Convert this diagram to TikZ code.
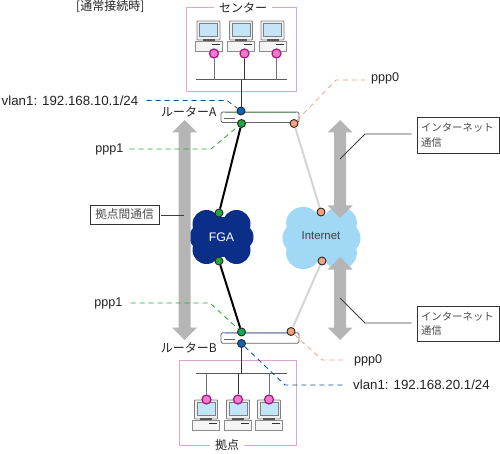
\documentclass[tikz,border=0pt]{standalone}
\usepackage{fontspec}
\setmainfont{Liberation Sans}
\newfontfamily\jp{Noto Sans CJK JP}
\definecolor{boxpink}{HTML}{D9A6D2}
\definecolor{pinkfill}{HTML}{F07CC8}
\definecolor{pinkline}{HTML}{A3108C}
\definecolor{navy}{HTML}{0B2F88}
\definecolor{sky}{HTML}{A0D8F6}
\definecolor{arrowgray}{HTML}{B5B5B5}
\definecolor{portblue}{HTML}{0F62B4}
\definecolor{portgreen}{HTML}{23A63C}
\definecolor{portorange}{HTML}{F4A27C}
\definecolor{screen}{HTML}{C4E4F8}
\definecolor{txt}{HTML}{222222}
\tikzset{
  lbl/.style={inner sep=0pt,font=\fontsize{12.6}{14}\selectfont,text=txt},
  iplbl/.style={inner sep=0pt,font=\fontsize{13.3}{15}\selectfont,text=txt},
  jlbl/.style={inner sep=0pt,font=\jp\fontsize{12}{15}\selectfont,text=txt},
  groupbox/.style={draw=boxpink,line width=1pt},
  grouptitle/.style={jlbl,fill=white,inner xsep=5pt,inner ysep=1pt},
  port/.style={circle,draw=black!85,line width=.9pt,minimum size=8pt,inner sep=0pt},
  pcport/.style={circle,draw=pinkline,fill=pinkfill,line width=1.2pt,minimum size=9pt,inner sep=0pt},
  routerbox/.style={draw=black!60,fill=white,rounded corners=1.5pt,line width=.9pt,minimum width=78pt,minimum height=10.5pt,inner sep=0pt},
  callout/.style={draw=black!80,fill=white,line width=.9pt,inner sep=0pt,font=\jp\fontsize{11.7}{15}\selectfont,text=black!70},
  callouttwo/.style={callout,font=\jp\fontsize{10.4}{14.5}\selectfont,align=left,text width=74pt,inner xsep=4pt,minimum width=82pt},
  bus/.style={draw=black!65,line width=1pt},
  drop/.style={draw=black!55,line width=1pt},
  uplink/.style={draw=black!80,line width=.8pt},
  thickln/.style={draw=black,line width=2pt},
  paleln/.style={draw=black!17,line width=2pt},
  dashln/.style={line width=.8pt,dash pattern=on 5pt off 4pt},
  leader/.style={draw=black!75,line width=.9pt},
}
% computer: centre x, top y of monitor
\newcommand{\pcunit}[2]{%
  \begin{scope}[shift={(#1,#2)}]
    \fill[black!6] (-11.5,0) rectangle (11.5,19);
    \draw[black!50,line width=.9pt,rounded corners=.8pt] (-11.5,0) rectangle (11.5,19);
    \fill[screen] (-9,2) rectangle (9,15);
    \draw[black!50,line width=.6pt] (-9,2) rectangle (9,15);
    \fill[black!65] (-6,18) rectangle (6,20);
    \draw[black!45,fill=black!4,line width=.9pt] (-13.5,20) rectangle (13.5,30);
    \draw[black!80,line width=.8pt] (3,23) -- (11,23);
  \end{scope}}
\newcommand{\cloudshape}[5]{% cx cy xs ys colour
  \begin{scope}[shift={(#1,#2)},xscale=#3,yscale=#4]
    \fill[#5] (-15,-13) circle (14);
    \fill[#5] (15,-13) circle (14);
    \fill[#5] (-18,0) circle (14);
    \fill[#5] (18,0) circle (14);
    \fill[#5] (-15,13) circle (14);
    \fill[#5] (15,13) circle (14);
    \fill[#5] (-18,-12) rectangle (18,12);
    \fill[#5] (-8,-20) rectangle (8,20);
  \end{scope}}
\newcommand{\dblarrow}[3]{% x top bottom
  \fill[arrowgray] (#1,#2) -- (#1+12.5,#2+12.5) -- (#1+6,#2+12.5) -- (#1+6,#3-12.5)
    -- (#1+12.5,#3-12.5) -- (#1,#3) -- (#1-12.5,#3-12.5) -- (#1-6,#3-12.5)
    -- (#1-6,#2+12.5) -- (#1-12.5,#2+12.5) -- cycle;}
\begin{document}
\begin{tikzpicture}[x=1pt,y=-1pt]
\useasboundingbox (0,0) rectangle (500,454);
% group frames
\draw[groupbox] (186.5,8) rectangle (296.7,92);
\draw[groupbox] (179,360.7) rectangle (296,445);
\node[grouptitle] (titleA) at (243,8) {センター};
\node[grouptitle] (titleB) at (227,445) {拠点};
\node[jlbl,anchor=west] (mode) at (76,6.5) {[通常接続時]};
% clouds
\cloudshape{221.5}{237}{1}{1}{navy}
\cloudshape{321.5}{238}{1.22}{1.15}{sky}
\node[inner sep=0pt,text=white,font=\fontsize{12.4}{14}\selectfont] (fga) at (221.5,237) {FGA};
\node[inner sep=0pt,text=black!75,font=\fontsize{11.4}{13}\selectfont] (inet) at (321,236) {Internet};
% gray arrows
\dblarrow{184.5}{120}{340}
\dblarrow{340}{120}{218}
\dblarrow{340}{257}{340}
% routers
\node[routerbox] (routerA) at (260,117.3) {};
\node[routerbox] (routerB) at (260,338) {};
\draw[portgreen!50!black!60,line width=.8pt] (225,112.6) -- (296,112.6);
\draw[black!60,line width=.8pt] (224,118.5) -- (235,118.5);
\draw[portorange,line width=.8pt] (225,333.4) -- (296,333.4);
\draw[black!60,line width=.8pt] (224,339) -- (235,339);
% computers
\pcunit{208.5}{21}\pcunit{241}{21}\pcunit{272.5}{21}
\pcunit{206}{400}\pcunit{238}{400}\pcunit{269}{400}
% ports
\node[pcport] (pa1) at (214,53.5) {};
\node[pcport] (pa2) at (244.5,53.5) {};
\node[pcport] (pa3) at (276.5,53.5) {};
\node[pcport] (pb1) at (206.5,399.5) {};
\node[pcport] (pb2) at (238,399.5) {};
\node[pcport] (pb3) at (269,399.5) {};
\node[port,fill=portblue] (ablue) at (241,111) {};
\node[port,fill=portgreen] (agreen) at (241.5,123.5) {};
\node[port,fill=portorange] (aorange) at (294,123.5) {};
\node[port,fill=portgreen] (bgreen) at (241.5,332) {};
\node[port,fill=portblue] (bblue) at (241.5,343.5) {};
\node[port,fill=portorange] (borange) at (291,331.5) {};
\node[port,fill=portgreen] (fgat) at (219,213) {};
\node[port,fill=portgreen] (fgab) at (219,261) {};
\node[port,fill=portorange] (inett) at (321,212) {};
\node[port,fill=portorange] (inetb) at (322,261) {};
% LANs
\coordinate (busAl) at (196,80); \coordinate (busAr) at (287,80);
\coordinate (busBl) at (196,373.3); \coordinate (busBr) at (287,373.3);
\draw[bus] (busAl) -- (busAr);
\draw[bus] (busBl) -- (busBr);
\draw[drop] (pa1) -- (pa1 |- busAl);
\draw[uplink] (pa2) -- (pa2 |- busAl);
\draw[drop] (pa3) -- (pa3 |- busAl);
\draw[drop] (pb1) -- (pb1 |- busBl);
\draw[uplink] (pb2) -- (pb2 |- busBl);
\draw[drop] (pb3) -- (pb3 |- busBl);
\draw[uplink] (ablue) -- (ablue |- busAl);
\draw[uplink] (bblue) -- (bblue |- busBl);
% WAN links
\draw[thickln] (agreen) -- (fgat);
\draw[thickln] (fgab) -- (bgreen);
\draw[paleln] (aorange) -- (inett);
\draw[paleln] (inetb) -- (borange);
% labels
\node[iplbl,anchor=east] (vlanA) at (138.5,100.5) {vlan1: 192.168.10.1/24};
\node[lbl,anchor=east] (pppA) at (123.5,149) {ppp1};
\node[lbl,anchor=west] (ppp0A) at (371,78) {ppp0};
\node[lbl,anchor=east] (pppB) at (122.5,303) {ppp1};
\node[lbl,anchor=west] (ppp0B) at (354,360.5) {ppp0};
\node[iplbl,anchor=west] (vlanB) at (353,385) {vlan1: 192.168.20.1/24};
\node[jlbl,anchor=east] (nameA) at (216.5,112) {ルーターA};
\node[jlbl,anchor=east] (nameB) at (217,348) {ルーターB};
% dashed leaders
\coordinate (dA1) at (146.5,100.5);
\coordinate (dA2) at (129.5,149);
\coordinate (dB1) at (130.5,303);
\draw[dashln,draw=portblue!80!black] (dA1) -- (227,100.5) -- (ablue);
\draw[dashln,draw=portgreen] (dA2) -- (211,149) -- (agreen);
\draw[dashln,draw=portorange] (aorange) -- (336,80) -- (365,80);
\draw[dashln,draw=portgreen] (dB1) -- (210,303) -- (bgreen);
\draw[dashln,draw=portorange] (borange) -- (322,360) -- (347,360);
\draw[dashln,draw=portblue!80!black] (bblue) -- (285,385) -- (346,385);
% callouts
\node[callout,minimum width=69pt,minimum height=19pt] (boxL) at (124.5,214.5) {拠点間通信};
\node[callouttwo,minimum height=36pt] (boxT) at (458,135) {インターネット\\通信};
\node[callouttwo,minimum height=35pt] (boxB) at (458,323.5) {インターネット\\通信};
\coordinate (tipL) at (184,215.5);
\coordinate (tipT) at (340,159);
\coordinate (tipB) at (340,298);
\coordinate (kneeT) at (365,134);
\coordinate (kneeB) at (365,323);
\draw[leader] (boxL.east |- tipL) ++(2,0) -- (tipL);
\draw[leader] (boxT.west |- kneeT) ++(-5,0) -- (kneeT) -- (tipT);
\draw[leader] (boxB.west |- kneeB) ++(-5,0) -- (kneeB) -- (tipB);
\end{tikzpicture}
\end{document}
